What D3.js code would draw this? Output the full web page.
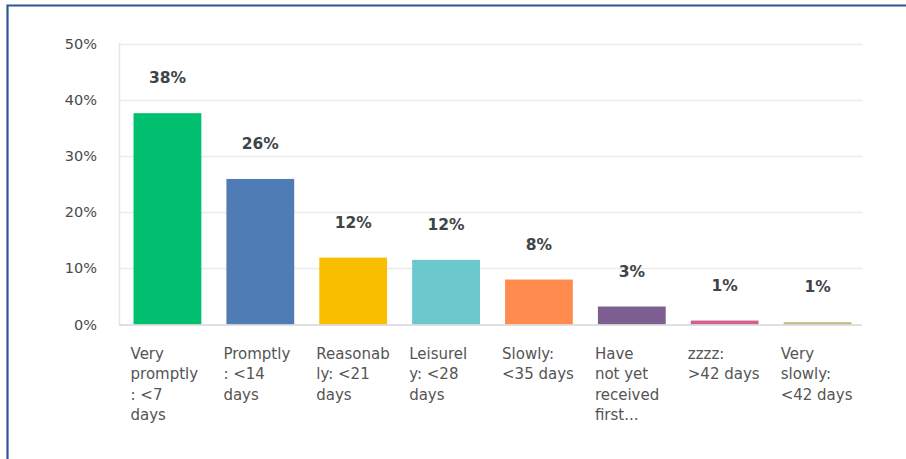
<!DOCTYPE html>
<html><head><meta charset="utf-8">
<script src="https://cdn.jsdelivr.net/npm/d3@7"></script>
<style>
html,body{margin:0;padding:0;background:#fff;}
svg{display:block;}
</style></head>
<body>
<svg id="chart" width="906" height="459"></svg>
<script>
const categories = ["Very promptly: <7 days","Promptly: <14 days","Reasonably: <21 days","Leisurely: <28 days","Slowly: <35 days","Have not yet received first...","zzzz: >42 days","Very slowly: <42 days"];
const categoryLines = [
  ["Very","promptly",": <7","days"],
  ["Promptly",": <14","days"],
  ["Reasonab","ly: <21","days"],
  ["Leisurel","y: <28","days"],
  ["Slowly:","<35 days"],
  ["Have","not yet","received","first..."],
  ["zzzz:",">42 days"],
  ["Very","slowly:","<42 days"]
];
const values = [37.6, 25.9, 11.9, 11.5, 8.0, 3.2, 0.7, 0.4];
const valueLabels = ["38%","26%","12%","12%","8%","3%","1%","1%"];
const colors = ["#00bf6f","#507cb6","#f9be00","#6bc8cd","#ff8b4f","#7d5e90","#d25f90","#c5b780"];
const yTicks = [0,10,20,30,40,50];
const yTickLabels = ["0%","10%","20%","30%","40%","50%"];

const svg = d3.select("#chart");
const font = "'DejaVu Sans', sans-serif";

// frame
svg.append("path").attr("d","M7.5,459 V5.5 H906").attr("fill","none").attr("stroke","#2f5597").attr("stroke-width",2.2);

const x = d3.scaleBand().domain(d3.range(categories.length)).range([121,864]).paddingInner(0.27).paddingOuter(0.135);
const y = d3.scaleLinear().domain([0,50]).range([324.5,43.5]);

// gridlines
svg.append("g").selectAll("line").data(yTicks.filter(d=>d>0)).join("line")
  .attr("x1",119).attr("x2",862).attr("y1",d=>Math.round(y(d))+0.5).attr("y2",d=>Math.round(y(d))+0.5)
  .attr("stroke","#ececec").attr("stroke-width",1.5);
// left axis line
svg.append("line").attr("x1",119.5).attr("x2",119.5).attr("y1",43).attr("y2",325).attr("stroke","#e6e6e6").attr("stroke-width",1.5);

// y tick labels
svg.append("g").selectAll("text").data(yTicks).join("text")
  .attr("x",97).attr("y",d=>y(d)).attr("dy","0.35em").attr("text-anchor","end")
  .attr("font-family",font).attr("font-size",14.5).attr("fill","#4a4a4a")
  .text((d,i)=>yTickLabels[i]);

// bars
svg.append("g").selectAll("rect").data(values).join("rect")
  .attr("x",(d,i)=>x(i)).attr("width",x.bandwidth())
  .attr("y",d=>y(d)).attr("height",d=>y(0)-y(d))
  .attr("fill",(d,i)=>colors[i]);

// baseline
svg.append("line").attr("x1",119).attr("x2",862).attr("y1",325).attr("y2",325).attr("stroke","#d6d6d6").attr("stroke-width",1.5);

// value labels
svg.append("g").selectAll("text").data(values).join("text")
  .attr("x",(d,i)=>x(i)+x.bandwidth()/2).attr("y",d=>y(d)-30)
  .attr("text-anchor","middle").attr("font-family",font).attr("font-size",15.5).attr("font-weight","bold")
  .attr("fill","#3f4447")
  .text((d,i)=>valueLabels[i]);

// category labels
const cg = svg.append("g");
categoryLines.forEach((lines,i)=>{
  const t = cg.append("text").attr("x",x(i)-3).attr("y",359)
    .attr("font-family",font).attr("font-size",15).attr("fill","#555");
  lines.forEach((l,j)=>t.append("tspan").attr("x",x(i)-3).attr("y",359+j*20.3).text(l));
});
</script>
</body></html>
